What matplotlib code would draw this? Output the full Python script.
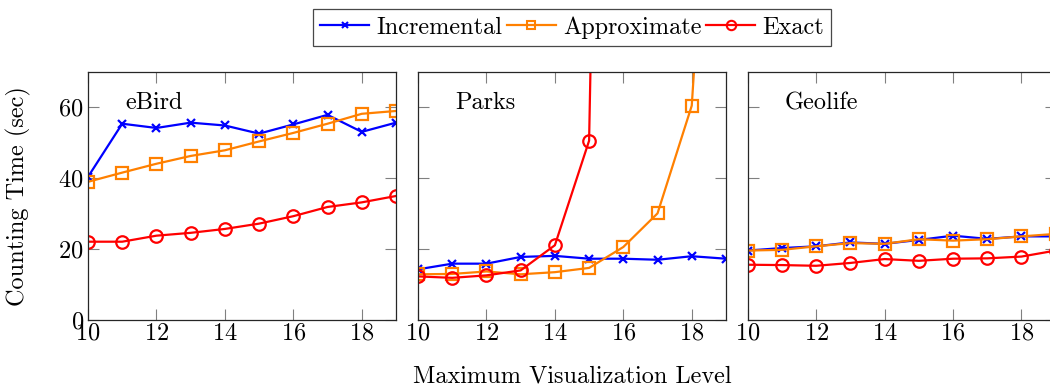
import matplotlib
matplotlib.use('Agg')
import matplotlib.pyplot as plt
from matplotlib.lines import Line2D

# niveles de visualizacion
niveles = [10, 11, 12, 13, 14, 15, 16, 17, 18, 19]

# eBird
ebird_inc = [40.4, 55.4, 54.2, 55.7, 54.9, 52.6, 55.2, 57.9, 53.1, 55.7]
ebird_apx = [39.0, 41.6, 44.1, 46.3, 47.9, 50.4, 52.8, 55.4, 58.2, 59.0]
ebird_exa = [22.1, 22.1, 23.8, 24.6, 25.7, 27.2, 29.3, 31.9, 33.2, 35.0]

# Parks
parks_inc = [14.3, 15.9, 15.9, 17.8, 18.1, 17.3, 17.3, 17.0, 18.0, 17.3]
parks_apx = [12.9, 13.0, 13.7, 12.9, 13.5, 14.7, 20.6, 30.1, 60.5, 210.0]
parks_niveles_exa = [10, 11, 12, 13, 14, 15, 16]
parks_exa = [12.3, 11.9, 12.6, 14.0, 21.1, 50.6, 550.0]

# Geolife
geo_inc = [19.6, 20.3, 20.8, 21.9, 21.5, 22.6, 23.8, 22.9, 23.6, 23.6]
geo_apx = [19.6, 19.8, 20.8, 21.7, 21.5, 22.8, 22.4, 22.8, 23.6, 24.3]
geo_exa = [15.6, 15.5, 15.3, 16.1, 17.2, 16.7, 17.3, 17.4, 17.9, 19.6]

nomes = ['Incremental', 'Approximate', 'Exact']
cores = ['#0000ff', '#ff8000', '#ff0000']
marcadores = ['x', 's', 'o']
tamanhos = [6, 8, 9]

FS = 17.5
plt.rcParams['font.family'] = ['cmr10', 'DejaVu Serif']
plt.rcParams['axes.formatter.use_mathtext'] = True
plt.rcParams['font.size'] = FS

fig = plt.figure(figsize=(10.5, 3.9), dpi=100)

paineis = [
    ('eBird', [(niveles, ebird_inc), (niveles, ebird_apx), (niveles, ebird_exa)]),
    ('Parks', [(niveles, parks_inc), (niveles, parks_apx), (parks_niveles_exa, parks_exa)]),
    ('Geolife', [(niveles, geo_inc), (niveles, geo_apx), (niveles, geo_exa)]),
]

esquerdas = [0.0838, 0.3981, 0.7121]
for i, (titulo, series) in enumerate(paineis):
    ax = fig.add_axes([esquerdas[i], 0.1795, 0.2933, 0.6359])
    for (xs, ys), c, m, s in zip(series, cores, marcadores, tamanhos):
        ax.plot(xs, ys, color=c, marker=m, markersize=s, markerfacecolor='none',
                markeredgecolor=c, markeredgewidth=1.6, lw=1.6, clip_on=True)
    ax.set_xlim(10, 19)
    ax.set_ylim(0, 70)
    ax.set_xticks([10, 12, 14, 16, 18])
    ax.set_yticks([0, 20, 40, 60])
    ax.tick_params(direction='in', length=8, width=0.8, color='0.5',
                   top=True, right=True, labelsize=FS, pad=3)
    ax.tick_params(axis='x', pad=2)
    if i > 0:
        ax.set_yticklabels([])
    for sp in ax.spines.values():
        sp.set_color('0.15')
        sp.set_linewidth(0.9)
    ax.text(0.12, 0.875, titulo, transform=ax.transAxes, fontsize=FS,
            ha='left', va='center')
    if i == 0:
        ax.set_ylabel('Counting Time (sec)', fontsize=FS)
        ax.yaxis.set_label_coords(-0.185, 0.5)

fig.text(0.545, 0.036, 'Maximum Visualization Level', ha='center', va='center', fontsize=FS)

handles = [Line2D([], [], color=c, marker=m, markersize=s * 0.75, markerfacecolor='none',
                  markeredgecolor=c, markeredgewidth=1.5, lw=1.6)
           for c, m, s in zip(cores, marcadores, tamanhos)]
leg = fig.legend(handles, nomes, loc='center', bbox_to_anchor=(0.545, 0.93), ncol=3,
                 frameon=True, fancybox=False, edgecolor='0.1', fontsize=FS,
                 handlelength=2.0, handletextpad=0.3, columnspacing=0.2,
                 borderpad=0.3)
leg.get_frame().set_linewidth(0.9)

fig.savefig('out.png', dpi=100)
